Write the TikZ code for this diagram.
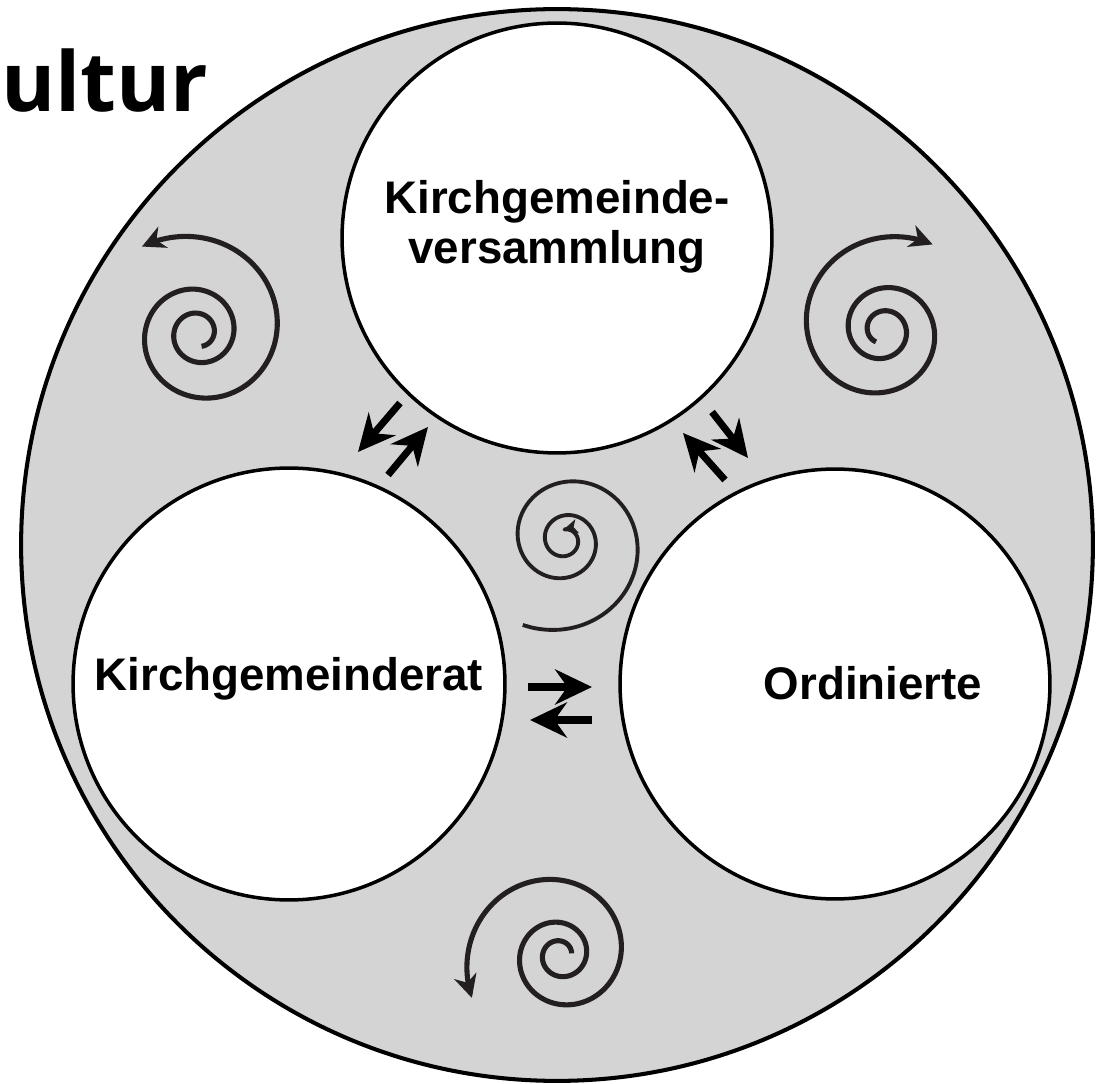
\documentclass[tikz,border=0pt]{standalone}
\usepackage{fontspec}
\setmainfont{Liberation Sans}
\newfontfamily\titlefont{Open Sans}
\usepackage{xcolor}
\usetikzlibrary{arrows.meta}
\definecolor{ringgray}{RGB}{212,212,212}
\definecolor{coilgray}{RGB}{35,31,32}
\tikzset{
  every picture/.style={line join=round, >=Stealth},
  ring/.style={circle, draw, line width=2pt, fill=white, minimum size=8.6cm, inner sep=0pt},
  lbl/.style={font=\bfseries\fontsize{26}{28.5}\selectfont, inner sep=0pt},
  flow/.style={line width=4pt, -{Stealth[length=21pt,width=20pt,inset=7pt]}},
  coil/.style={coilgray, line width=2.9pt},
  coiltip/.style={-{Stealth[length=13pt,width=13pt,inset=4pt]}},
}
% spiral: #1 options, #2 centre, #3 outer radius, #4 growth per turn, #5 end angle, #6 sense, #7 start turn
\newcommand\drawcoil[7]{%
  \draw[coil,#1,shift={(#2)}] plot[domain=#7:0,samples=160,smooth,variable=\t]
    ({#5+#6*360*\t}:{#3*exp(\t*ln(#4))});}

\begin{document}
\begin{tikzpicture}[x=0.02cm,y=0.02cm]
\useasboundingbox (0,0) rectangle (1106,1083);
\node[circle,draw,line width=2.3pt,fill=ringgray,minimum size=21.44cm,inner sep=0pt] (gemeinde) at (557,538) {};
\node[ring] (kgv) at (557,845) {};
\node[ring,minimum size=8.64cm] (kgr) at (289,399) {};
\node[ring] (ord) at (835,399) {};

\node[lbl,align=center] (kgvtxt) at (557,856) {Kirchgemeinde-\\versammlung};
\node[lbl,anchor=base] (kgrtxt) at (289,393) {Kirchgemeinderat};
\node[lbl,anchor=base] (ordtxt) at (873,383) {Ordinierte};
\node[font=\titlefont\bfseries\fontsize{47}{47}\selectfont,anchor=base west,inner sep=0pt] (titel) at (1,971) {ultur};

% spirals
\drawcoil{coiltip}{198,750}{103}{2.2}{123}{1}{-2.55}
\drawcoil{coiltip}{883,753}{99}{2.2}{59.5}{-1}{-2.5}
\drawcoil{coiltip}{560,128}{98}{2.3}{206}{1}{-2.55}
\drawcoil{line width=2.2pt,{Stealth[length=8pt,width=8pt,inset=2pt]}-}{565,543}{95}{2.35}{243}{-1}{-2.6}

% exchange arrows
\coordinate (a1) at (400,680); \coordinate (a2) at (358,631);
\coordinate (b1) at (388,608); \coordinate (b2) at (428,656);
\coordinate (c1) at (712,671); \coordinate (c2) at (748,625);
\coordinate (d1) at (725,603); \coordinate (d2) at (683,650);
\coordinate (e1) at (528,396); \coordinate (e2) at (592,396);
\coordinate (f1) at (592,363); \coordinate (f2) at (530,363);
\draw[flow] (a1)--(a2);
\draw[flow] (b1)--(b2);
\draw[flow] (c1)--(c2);
\draw[flow] (d1)--(d2);
\draw[flow] (e1)--(e2);
\draw[flow] (f1)--(f2);
\end{tikzpicture}
\end{document}
